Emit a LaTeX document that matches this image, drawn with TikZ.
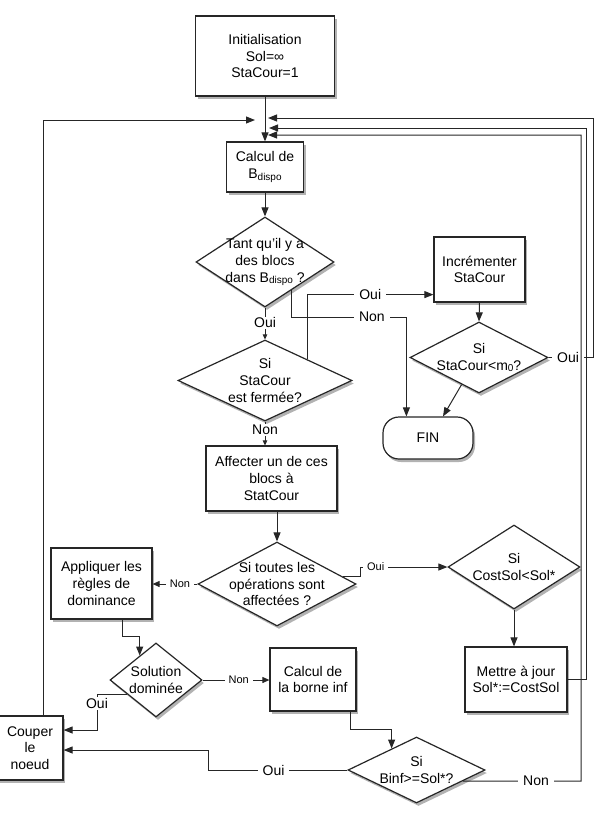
\documentclass[tikz,border=0pt]{standalone}
\usepackage{fontspec}
\setmainfont{Liberation Sans}
\usetikzlibrary{shapes.geometric,arrows.meta,shadows,calc}
\newcommand\lowsub[1]{\raisebox{-1.5pt}{\fontsize{10}{10}\selectfont #1}}
\begin{document}
\begin{tikzpicture}[x=1pt,y=-1pt,
  every node/.style={font=\fontsize{14}{16.8}\selectfont},
  shad/.style={drop shadow={shadow xshift=2pt,shadow yshift=-3pt,opacity=0.3,fill=black}},
  box/.style={draw=black!85,line width=1.2pt,fill=white,shad,align=center,inner sep=0pt},
  dia/.style={diamond,draw=black!85,line width=1.2pt,fill=white,shad,inner sep=0pt},
  dtxt/.style={align=center,inner sep=0pt},
  conn/.style={draw=black!85,line width=1pt},
  arr/.style={conn,-{Triangle[length=9pt,width=7pt]}},
  marr/.style={conn,-{Triangle[length=7pt,width=6pt]}},
  sarr/.style={conn,-{Triangle[length=5pt,width=4.5pt]}},
  lab/.style={fill=white,inner ysep=1pt,inner xsep=5pt},
  slab/.style={fill=white,inner ysep=1pt,inner xsep=4pt,font=\fontsize{11}{13}\selectfont},
]
\useasboundingbox (0,0) rectangle (603,823);

% nodes
\node[box,minimum width=139pt,minimum height=80pt] (init) at (265,56) {Initialisation\\Sol=∞\\StaCour=1};
\node[box,minimum width=77pt,minimum height=50pt] (calc) at (265,167) {Calcul de\\B\lowsub{dispo}};
\node[dia,minimum width=138pt,minimum height=90pt] (d1) at (265,262) {};
\node[dtxt] (d1t) at (d1) {Tant qu\symbol{39}il y a\\des blocs\\dans B\lowsub{dispo} ?};
\node[dia,minimum width=174pt,minimum height=81pt] (d2) at (265,380.5) {};
\node[dtxt] (d2t) at (d2) {Si\\StaCour\\est fermée?};
\node[box,minimum width=91pt,minimum height=65pt] (incr) at (479.5,269.5) {Incrémenter\\StaCour};
\node[dia,minimum width=138pt,minimum height=71pt] (d3) at (479,357.5) {};
\node[dtxt] (d3t) at (d3) {Si\\StaCour<m\lowsub{0}?};
\node[box,rounded corners=16pt,minimum width=90pt,minimum height=42pt] (fin) at (428,438) {FIN};
\node[box,minimum width=131pt,minimum height=65pt] (aff) at (271.5,478.5) {Affecter un de ces\\blocs à\\StatCour};
\node[dia,minimum width=158pt,minimum height=84pt] (d4) at (277,584) {};
\node[dtxt] (d4t) at (d4) {Si toutes les\\opérations sont\\affectées ?};
\node[dia,minimum width=132pt,minimum height=84pt] (d5) at (514,567) {};
\node[dtxt] (d5t) at (d5) {Si\\CostSol<Sol*};
\node[box,minimum width=101pt,minimum height=71pt] (app) at (101.5,583.5) {Appliquer les\\règles de\\dominance};
\node[dia,minimum width=92pt,minimum height=74pt] (d6) at (156,680) {};
\node[dtxt] (d6t) at (d6) {Solution\\dominée};
\node[box,minimum width=86pt,minimum height=63pt] (cbi) at (313,679.5) {Calcul de\\la borne inf};
\node[box,minimum width=102pt,minimum height=65pt] (maj) at (516,679.5) {Mettre à jour\\Sol*:=CostSol};
\node[box,minimum width=66pt,minimum height=64pt] (cut) at (30,748) {Couper\\le\\noeud};
\node[dia,minimum width=137pt,minimum height=66pt] (d7) at (416.5,770) {};
\node[dtxt] (d7t) at (d7) {Si\\Binf>=Sol*?};

% helper coordinates
\coordinate (jL) at (255,120);
\coordinate (j1) at (268,118);
\coordinate (j2) at (269,128);
\coordinate (j3) at (268,135);
\coordinate (cutTop) at ($(cut.north)+(13,0)$);
\coordinate (p1) at ($(d1.east)!0.62!(d1.south)$);
\coordinate (h1) at (0,317);
\coordinate (q1) at ($(fin.north west)+(24,0)$);
\coordinate (p2) at ($(d2.north)!0.48!(d2.east)$);
\coordinate (q2) at ($(incr.south west)+(0,-8)$);
\coordinate (p3) at ($(d3.south)!0.25!(d3.west)$);
\coordinate (q3) at ($(fin.north)+(15,0)$);
\coordinate (p4) at ($(d4.east)!0.17!(d4.north)$);
\coordinate (k4) at (360,567);
\coordinate (a6) at ($(app.south)+(20.5,0)$);
\coordinate (p6) at ($(d6.north)!0.35!(d6.west)$);
\coordinate (p6b) at ($(d6.west)!0.38!(d6.south)$);
\coordinate (c6) at ($(cut.east)+(0,-18)$);
\coordinate (k6) at (97,730);
\coordinate (b1) at ($(cbi.south)+(37,0)$);
\coordinate (p7b) at ($(d7.north)!0.36!(d7.west)$);
\coordinate (c7) at ($(cut.east)+(0,2)$);
\coordinate (k7) at (208,770);
\coordinate (p7) at ($(d7.east)!0.33!(d7.south)$);

% connectors
\draw[arr] (d3.east) -- node[lab,pos=0.44]{Oui} (593,357.5) -- (593,118) -- (j1);
\draw[arr] (maj.east) -- (586,679.5) -- (586,128) -- (j2);
\draw[arr] (p7) -- node[lab,pos=0.62]{Non} (581,781) -- (581,135) -- (j3);
\draw[arr] (cutTop) -- (43,120) -- (jL);
\draw[arr] (init.south) -- (calc.north);
\draw[arr] (calc.south) -- (d1.north);
\draw[sarr] (d1.south) -- node[lab,pos=0.48]{Oui} (d2.north);
\draw[sarr] (d2.south) -- node[lab,pos=0.36]{Non} (d2.south |- aff.north);
\draw[arr] (p2) |- node[lab,pos=0.75]{Oui} (q2);
\draw[arr] (p1) -- (p1 |- h1) -- node[lab,pos=0.7]{Non} (q1 |- h1) -- (q1);
\draw[arr] (incr.south) -- (d3.north);
\draw[arr] (p3) -- (q3);
\draw[arr] (d4.north |- aff.south) -- (d4.north);
\draw[marr] (d4.west) -- node[slab,pos=0.39]{Non} (app.east |- d4.west);
\draw[arr] (p4) -| (k4) -- node[slab,pos=0.18]{Oui} (d5.west);
\draw[arr] (d5.south) -- (d5.south |- maj.north);
\draw[arr] (a6) -- ++(0,17) -| (p6);
\draw[marr] (d6.east) -- node[slab,pos=0.54]{Non} (cbi.west |- d6.east);
\draw[arr] (p6b) -| node[lab,pos=0.63]{Oui} (k6) -- (c6);
\draw[arr] (b1) -- ++(0,18) -| (p7b);
\draw[arr] (d7.west) -- node[lab,pos=0.53]{Oui} (k7) |- (c7);
\end{tikzpicture}
\end{document}
